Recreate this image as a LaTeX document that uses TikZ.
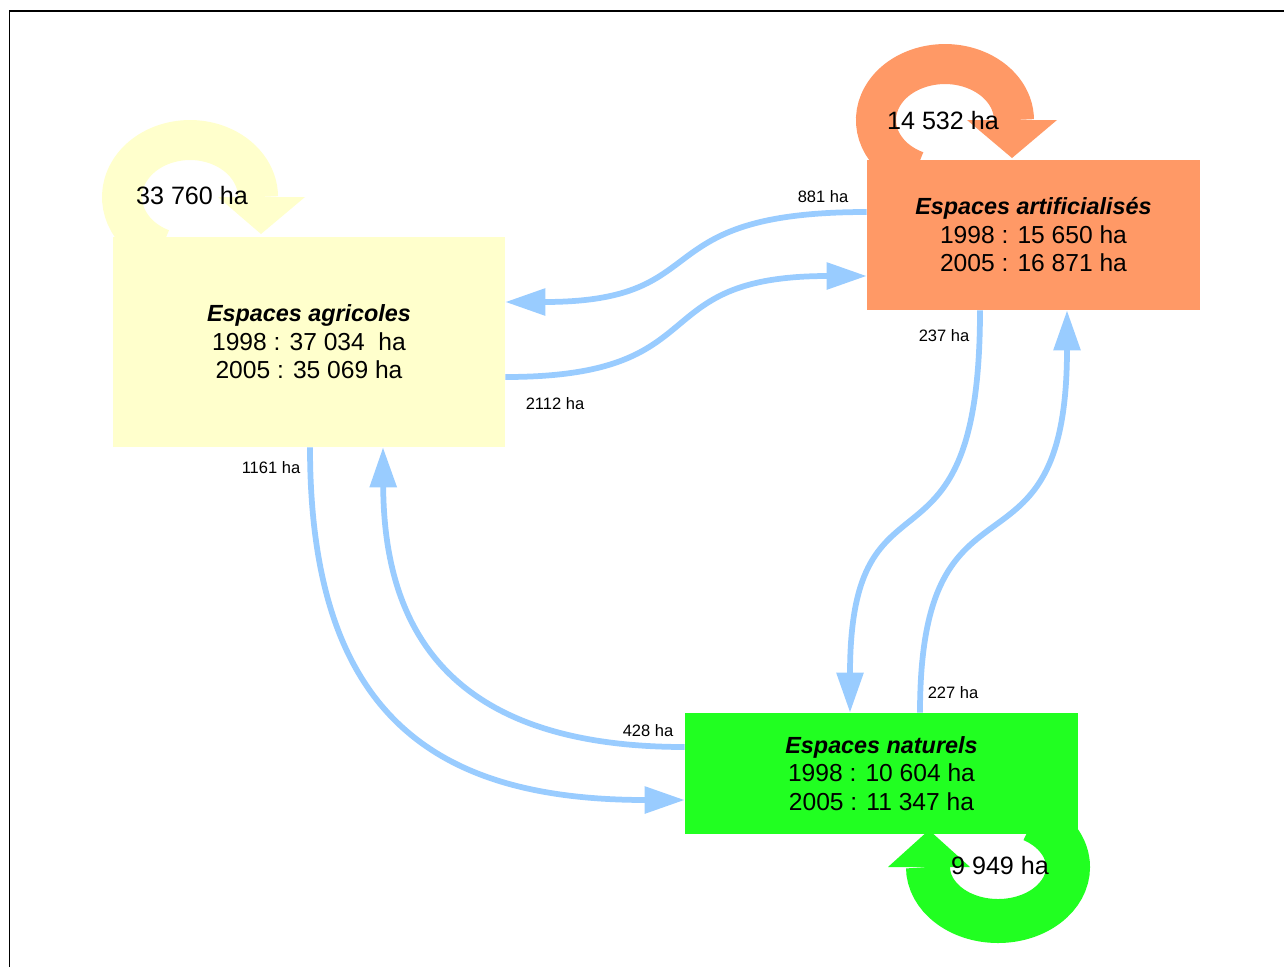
\documentclass[tikz,border=0pt]{standalone}
\usepackage{fontspec}
\setmainfont{Liberation Sans}
\usetikzlibrary{arrows.meta}
\definecolor{agricol}{HTML}{FFFFCC}
\definecolor{artif}{HTML}{FF9966}
\definecolor{natur}{RGB}{33,255,33}
\definecolor{flux}{HTML}{99CCFF}
\newcommand{\titref}{\fontsize{13.3}{16.2}\selectfont\bfseries\itshape}
\begin{document}
\begin{tikzpicture}[x=0.02cm,y=-0.02cm,
  zone/.style={draw=none,inner sep=0pt,align=center,font=\fontsize{14}{16.2}\selectfont},
  flow/.style={draw=flux,line width=0.115cm,-{Triangle[length=0.8cm,width=0.52cm]}},
  small/.style={font=\fontsize{9.4}{11}\selectfont,inner sep=0pt},
  big/.style={font=\fontsize{14.3}{17}\selectfont,inner sep=0pt},
  ring/.style={line width=0.8cm}]
\useasboundingbox (0,0) rectangle (1284,967);
\fill[white] (0,0) rectangle (1284,967);
\draw[line width=0.8pt] (9.5,967) -- (9.5,11) -- (1284,11);

% self loops
\draw[agricol,ring] (161.3,248.7) arc[start angle=115,end angle=360,x radius=68,y radius=57];
\fill[agricol] (218,197) -- (305,197) -- (261,234) -- cycle;
\draw[artif,ring] (915.8,170.8) arc[start angle=115,end angle=360,x radius=69,y radius=56];
\fill[artif] (967,120) -- (1057,120) -- (1012,158) -- cycle;
\draw[natur,ring,line width=0.88cm] (928,867) arc[start angle=180,end angle=-60,x radius=70,y radius=54];
\fill[natur] (888,867) -- (970,867) -- (929,830) -- cycle;

% boxes
\node[zone,fill=agricol,minimum width=7.84cm,minimum height=4.2cm] (agri) at (309,342)
  {{\titref Espaces agricoles}\\1998 : 37 034\ \ ha\\2005 : 35 069 ha};
\node[zone,fill=artif,minimum width=6.66cm,minimum height=3cm] (arti) at (1033.5,235)
  {{\titref Espaces artificialisés}\\1998 : 15 650 ha\\2005 : 16 871 ha};
\node[zone,fill=natur,minimum width=7.86cm,minimum height=2.42cm] (natu) at (881.5,773.5)
  {{\titref Espaces naturels}\\1998 : 10 604 ha\\2005 : 11 347 ha};

% flows
\draw[flow] (arti.west |- 0,212) .. controls (640,212) and (720,302) .. (agri.east |- 0,302);
\draw[flow] (agri.east |- 0,377) .. controls (720,377) and (640,276) .. (arti.west |- 0,276);
\draw[flow] (arti.south -| 980,0) .. controls (980,600) and (850,450) .. (natu.north -| 850,0);
\draw[flow] (natu.north -| 920,0) .. controls (920,450) and (1067,600) .. (arti.south -| 1067,0);
\draw[flow] (agri.south -| 310,0) .. controls (310,720) and (440,800) .. (natu.west |- 0,800);
\draw[flow] (natu.west |- 0,747) .. controls (470,747) and (384,650) .. (agri.south -| 383,0);

% labels
\node[small] (l881) at (823,197) {881 ha};
\node[small] (l2112) at (555,404) {2112 ha};
\node[small] (l237) at (944,336) {237 ha};
\node[small] (l1161) at (271,468) {1161 ha};
\node[small] (l428) at (648,731) {428 ha};
\node[small] (l227) at (953,693) {227 ha};
\node[big] (la) at (192,196) {33 760 ha};
\node[big] (lb) at (943,121) {14 532 ha};
\node[big] (lc) at (1000,866) {9 949 ha};
\end{tikzpicture}
\end{document}
